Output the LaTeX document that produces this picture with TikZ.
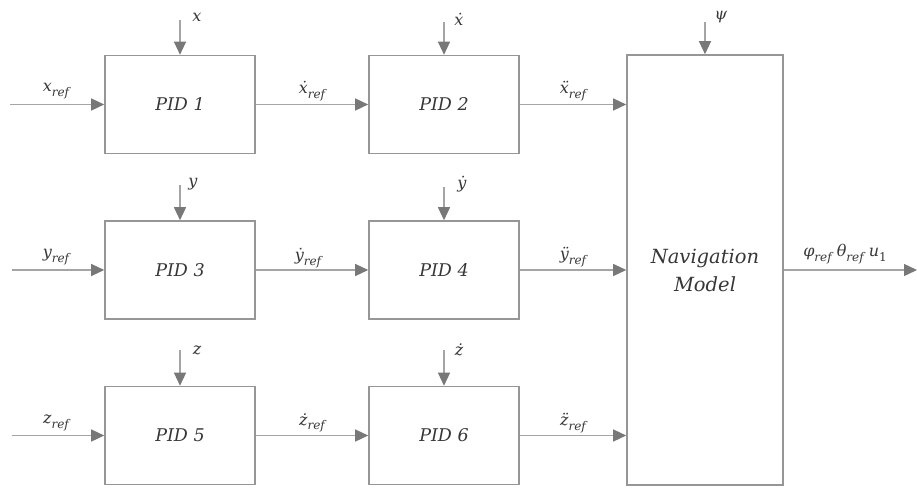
\documentclass[tikz,border=0pt]{standalone}
\usepackage{fontspec}
\setmainfont{DejaVu Serif}
\usetikzlibrary{arrows.meta}
\definecolor{linegray}{RGB}{165,165,165}
\definecolor{boxgray}{RGB}{150,150,150}
\definecolor{tipgray}{RGB}{120,120,120}
\definecolor{txt}{RGB}{55,55,55}
% italic signal name with a lowered subscript
\newcommand{\sig}[2]{\textit{#1}\raisebox{-0.28em}{\fontsize{12}{12}\selectfont #2}}
\begin{document}
\begin{tikzpicture}[x=1pt,y=-1pt,
  blk/.style={draw=boxgray, line width=1.6pt, minimum width=150pt, minimum height=98pt,
    inner sep=0pt, font=\fontsize{17.5}{22}\selectfont\itshape, text=txt},
  flow/.style={draw=linegray, line width=1.3pt,
    -{Triangle[length=13pt,width=12pt,color=tipgray,fill=tipgray]}},
  lbl/.style={text=txt, font=\fontsize{16}{18}\selectfont\itshape, inner sep=0pt}]
\useasboundingbox (0,0) rectangle (917,487);

% controller blocks
\node[blk] (p1) at (180,104.5) {PID 1};
\node[blk] (p2) at (444,104.5) {PID 2};
\node[blk] (p3) at (180,270) {PID 3};
\node[blk] (p4) at (444,270) {PID 4};
\node[blk] (p5) at (180,435.5) {PID 5};
\node[blk] (p6) at (444,435.5) {PID 6};
\node[blk, minimum width=156pt, minimum height=430pt, align=center,
  font=\fontsize{19.5}{28}\selectfont\itshape] (nav) at (705,270) {Navigation\\Model};

% free ends of the signals
\coordinate (i1) at (10,104.5);
\coordinate (i3) at (12,270);
\coordinate (i5) at (12,435.5);
\coordinate (t1) at (180,20);
\coordinate (t2) at (444,22);
\coordinate (t3) at (180,185);
\coordinate (t4) at (444,187);
\coordinate (t5) at (180,350);
\coordinate (t6) at (444,350);
\coordinate (tn) at (705,22);
\coordinate (out) at (917,270);

% reference inputs
\draw[flow] (i1) -- (p1.west);
\draw[flow] (i3) -- (p3.west);
\draw[flow] (i5) -- (p5.west);
% measured feedback
\draw[flow] (t1) -- (p1.north);
\draw[flow] (t2) -- (p2.north);
\draw[flow] (t3) -- (p3.north);
\draw[flow] (t4) -- (p4.north);
\draw[flow] (t5) -- (p5.north);
\draw[flow] (t6) -- (p6.north);
\draw[flow] (tn) -- (nav.north);
% cascade links
\draw[flow] (p1.east) -- (p2.west);
\draw[flow] (p3.east) -- (p4.west);
\draw[flow] (p5.east) -- (p6.west);
\draw[flow] (p2.east) -- (p2.east -| nav.west);
\draw[flow] (p4.east) -- (p4.east -| nav.west);
\draw[flow] (p6.east) -- (p6.east -| nav.west);
\draw[flow] (nav.east) -- (out);

% signal labels
\node[lbl] (lx) at (197,17) {x};
\node[lbl] (ldx) at (459,19) {ẋ};
\node[lbl] (lpsi) at (721,17) {ψ};
\node[lbl] (lxr) at (56,91) {\sig{x}{ref}};
\node[lbl] (ldxr) at (312,91) {\sig{ẋ}{ref}};
\node[lbl] (lddxr) at (573,91) {\sig{ẍ}{ref}};

\node[lbl] (ly) at (193,184) {y};
\node[lbl] (ldy) at (462,184) {ẏ};
\node[lbl] (lyr) at (56,257) {\sig{y}{ref}};
\node[lbl] (ldyr) at (308,258) {\sig{ẏ}{ref}};
\node[lbl] (lddyr) at (573,257) {\sig{ÿ}{ref}};

\node[lbl] (lz) at (197,350) {z};
\node[lbl] (ldz) at (459,350) {ż};
\node[lbl] (lzr) at (56,423) {\sig{z}{ref}};
\node[lbl] (ldzr) at (312,423) {\sig{ż}{ref}};
\node[lbl] (lddzr) at (573,423) {\sig{z̈}{ref}};

\node[lbl] (lout) at (845,254) {\sig{φ}{ref} \sig{θ}{ref} \sig{u}{\upshape 1}};
\end{tikzpicture}
\end{document}
